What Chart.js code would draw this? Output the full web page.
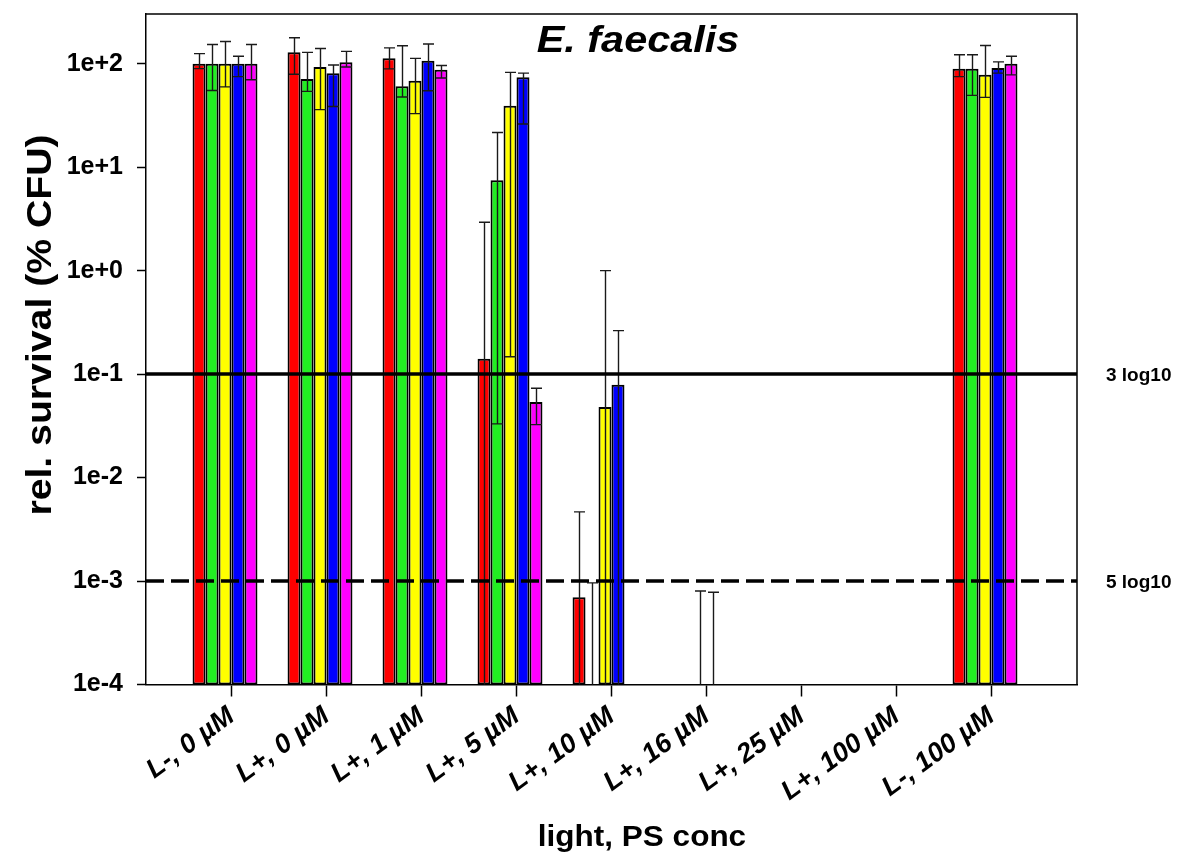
<!DOCTYPE html>
<html>
<head>
<meta charset="utf-8">
<title>E. faecalis survival</title>
<script src="https://cdn.jsdelivr.net/npm/chart.js@4.4.1/dist/chart.umd.min.js"></script>
<style>
  html, body { margin: 0; padding: 0; background: #fff; }
  canvas { display: block; }
</style>
</head>
<body>
<canvas id="survivalChart" width="1179" height="857"></canvas>
<script>
// light / photosensitizer conditions
const categories = ['L-, 0 µM', 'L+, 0 µM', 'L+, 1 µM', 'L+, 5 µM', 'L+, 10 µM',
  'L+, 16 µM', 'L+, 25 µM', 'L+, 100 µM', 'L-, 100 µM'];

// relative survival (% CFU); null = no surviving colonies
const redValues     = [100, 128.6, 112.5, 0.141, 6.97e-4, null, null, null, 89.5];
const greenValues   = [100, 71, 60.4, 7.45, null, null, null, null, 89.5];
const yellowValues  = [100, 93, 68.5, 39.3, 0.0482, null, null, null, 78];
const blueValues    = [100, 81, 107, 73.8, 0.079, null, null, null, 90.9];
const magentaValues = [100, 103, 87.5, 0.0538, null, null, null, null, 100];

// error bar ends (0 = runs below the axis)
const redHigh     = [125, 178, 142, 2.93, 4.66e-3, null, null, null, 122];
const redLow      = [89.5, 79, 89, 0, 0, null, null, null, 75];
const greenHigh   = [153, 128.6, 149, 21.6, 9.6e-4, null, null, null, 122];
const greenLow    = [55, 54, 47.6, 0.033, 0, null, null, null, 49.4];
const yellowHigh  = [164, 140, 112.5, 82.4, 1.0, 8.0e-4, null, null, 150];
const yellowLow   = [59.6, 36, 32.9, 0.147, 0, 0, null, null, 47.2];
const blueHigh    = [118, 97, 155, 81, 0.263, 7.8e-4, null, null, 104];
const blueLow     = [75, 38.5, 54.8, 26.1, 0, 0, null, null, 81];
const magentaHigh = [153, 131.5, 96, 0.073, null, null, null, null, 118];
const magentaLow  = [70, 93, 72.8, 0.0325, null, null, null, null, 78];

const yTickValues = [1e-4, 1e-3, 1e-2, 1e-1, 1e0, 1e1, 1e2];
const yTickLabels = ['1e-4', '1e-3', '1e-2', '1e-1', '1e+0', '1e+1', '1e+2'];

// reduction thresholds
const thresholdValues = [1e-1, 1e-3];
const thresholdLabels = ['3 log10', '5 log10'];

const FONT = '"Liberation Sans", Arial, Helvetica, sans-serif';

const series = [
  { color: '#ff0000', values: redValues, high: redHigh, low: redLow },
  { color: '#22ee22', values: greenValues, high: greenHigh, low: greenLow },
  { color: '#ffff00', values: yellowValues, high: yellowHigh, low: yellowLow },
  { color: '#0000ff', values: blueValues, high: blueHigh, low: blueLow },
  { color: '#ff00ff', values: magentaValues, high: magentaHigh, low: magentaLow },
];

const datasets = series.map((s) => ({
  data: s.values.map((v, i) => ({ x: i + 1, y: v })),
  backgroundColor: s.color,
  borderColor: '#000',
  borderWidth: 2,
  borderSkipped: false,
}));
// empty sixth slot so each group keeps six bar positions
datasets.push({ data: [], backgroundColor: '#fff' });

const errorBars = {
  id: 'errorBars',
  afterDatasetsDraw(chart) {
    const { ctx, chartArea, scales: { y } } = chart;
    ctx.save();
    ctx.beginPath();
    ctx.rect(chartArea.left, chartArea.top, chartArea.right - chartArea.left, chartArea.bottom - chartArea.top + 1);
    ctx.clip();
    ctx.strokeStyle = '#1a1a1a';
    ctx.lineWidth = 1.4;
    series.forEach((s, di) => {
      const meta = chart.getDatasetMeta(di);
      s.high.forEach((hi, i) => {
        if (hi == null) return;
        const bar = meta.data[i];
        if (!bar || !isFinite(bar.x)) return;
        const x = Math.round(bar.x) + 0.5;
        const yHi = y.getPixelForValue(hi);
        const lo = s.low[i];
        const yLo = lo > 0 ? y.getPixelForValue(lo) : chartArea.bottom;
        const half = 5.5;
        ctx.beginPath();
        ctx.moveTo(x, yLo);
        ctx.lineTo(x, yHi);
        ctx.moveTo(x - half, yHi);
        ctx.lineTo(x + half, yHi);
        if (lo > 0) {
          ctx.moveTo(x - half, yLo);
          ctx.lineTo(x + half, yLo);
        }
        ctx.stroke();
      });
    });
    ctx.restore();

    // threshold lines
    ctx.save();
    ctx.strokeStyle = '#000';
    ctx.lineWidth = 3.5;
    thresholdValues.forEach((v, k) => {
      const py = y.getPixelForValue(v);
      ctx.setLineDash(k === 0 ? [] : [18, 7]);
      ctx.beginPath();
      ctx.moveTo(chartArea.left, py);
      ctx.lineTo(chartArea.right, py);
      ctx.stroke();
    });
    ctx.restore();
  },
  afterDraw(chart) {
    const { ctx, chartArea, scales: { y } } = chart;
    ctx.save();
    // frame top and right
    ctx.strokeStyle = '#000';
    ctx.lineWidth = 1.5;
    ctx.beginPath();
    ctx.moveTo(chartArea.left, chartArea.top);
    ctx.lineTo(chartArea.right, chartArea.top);
    ctx.lineTo(chartArea.right, chartArea.bottom);
    ctx.stroke();

    ctx.fillStyle = '#000';
    ctx.textBaseline = 'middle';
    ctx.textAlign = 'left';
    ctx.font = 'bold 19px ' + FONT;
    thresholdValues.forEach((v, k) => {
      ctx.fillText(thresholdLabels[k], chartArea.right + 29, y.getPixelForValue(v) + 2);
    });

    // title, slightly widened
    ctx.textAlign = 'center';
    ctx.textBaseline = 'alphabetic';
    ctx.save();
    ctx.translate(638, 52);
    ctx.scale(1.12, 1);
    ctx.font = 'italic bold 37px ' + FONT;
    ctx.fillText('E. faecalis', 0, 0);
    ctx.restore();

    // axis titles
    ctx.save();
    ctx.translate(642, 846);
    ctx.scale(1.05, 1);
    ctx.font = 'bold 30px ' + FONT;
    ctx.fillText('light, PS conc', 0, 0);
    ctx.restore();

    ctx.translate(51, 325);
    ctx.rotate(-Math.PI / 2);
    ctx.scale(1.12, 1);
    ctx.font = 'bold 35px ' + FONT;
    ctx.fillText('rel. survival (% CFU)', 0, 0);
    ctx.restore();
  }
};

new Chart(document.getElementById('survivalChart'), {
  type: 'bar',
  data: { datasets },
  options: {
    responsive: false,
    animation: false,
    devicePixelRatio: 1,
    layout: { padding: { top: 14, right: 102, left: 0, bottom: 0 } },
    datasets: { bar: { categoryPercentage: 0.82, barPercentage: 1.0, grouped: true } },
    plugins: { legend: { display: false }, tooltip: { enabled: false } },
    scales: {
      x: {
        type: 'linear',
        min: 0.1,
        max: 9.9,
        offset: false,
        afterBuildTicks: (scale) => { scale.ticks = categories.map((c, i) => ({ value: i + 1 })); },
        afterFit: (scale) => { scale.height = 172.5; scale.paddingLeft = 0; scale.paddingRight = 0; },
        grid: { offset: false, drawOnChartArea: false, drawTicks: true, tickLength: 12, tickWidth: 1.5, tickColor: '#000' },
        border: { display: true, color: '#000', width: 1.5 },
        ticks: {
          autoSkip: false,
          minRotation: 36,
          maxRotation: 36,
          padding: 4,
          color: '#000',
          font: { family: FONT, size: 27, weight: 'bold', style: 'italic' },
          callback: (v) => categories[Math.round(v) - 1] || '',
        },
      },
      y: {
        type: 'logarithmic',
        min: 1e-4,
        max: 302,
        afterBuildTicks: (scale) => { scale.ticks = yTickValues.map((v) => ({ value: v })); },
        afterFit: (scale) => { scale.width = 146; scale.paddingTop = 0; scale.paddingBottom = 0; },
        grid: { drawOnChartArea: false, drawTicks: true, tickLength: 9, tickWidth: 1.5, tickColor: '#000' },
        border: { display: true, color: '#000', width: 1.5 },
        ticks: {
          padding: 14,
          color: '#000',
          font: { family: FONT, size: 25, weight: 'bold' },
          callback: (v, i) => yTickLabels[i],
        },
      },
    },
  },
  plugins: [errorBars],
});
</script>
</body>
</html>
